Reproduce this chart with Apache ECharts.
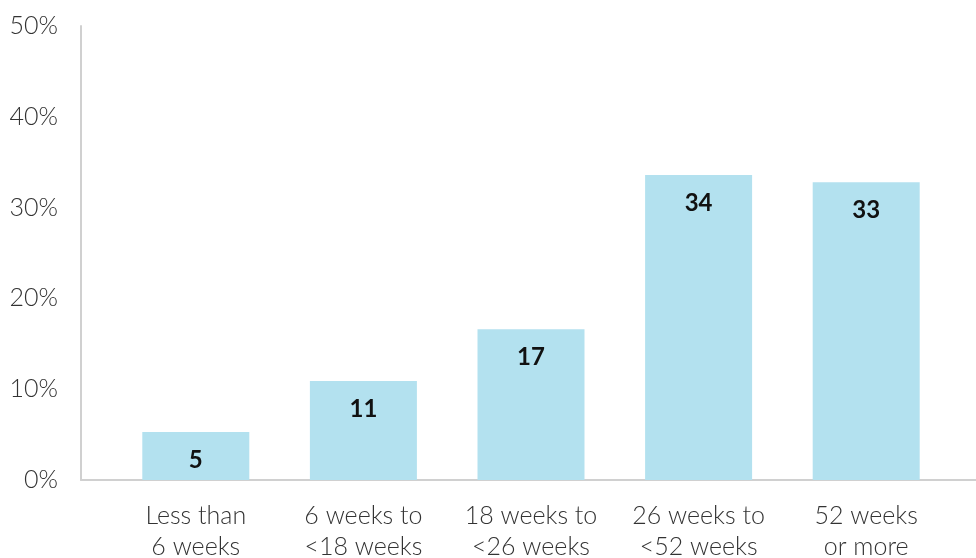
<!DOCTYPE html>
<html><head><meta charset="utf-8">
<script src="https://cdn.jsdelivr.net/npm/echarts@6/dist/echarts.min.js"></script>
<style>html,body{margin:0;padding:0;background:#fff}#c{width:976px;height:558px}</style>
</head><body><div id="c"></div>
<script>
const categories = ['Less than\n6 weeks', '6 weeks to\n<18 weeks', '18 weeks to\n<26 weeks', '26 weeks to\n<52 weeks', '52 weeks\nor more'];
const values = [5.3, 10.9, 16.6, 33.6, 32.8];
const yTicks = [0, 10, 20, 30, 40, 50];

const chart = echarts.init(document.getElementById('c'));
const font = 'Lato';
chart.setOption({
  animation: false,
  grid: [
    {left: 81, right: 0, top: 26, bottom: 78, outerBoundsMode: 'none', containLabel: false},
    {left: 112, right: 26, top: 26, bottom: 78, outerBoundsMode: 'none', containLabel: false}
  ],
  xAxis: [
    {gridIndex: 0, type: 'value', min: 0, max: 1, axisLine: {show: true, lineStyle: {color: '#d0d0d0', width: 2}}, axisTick: {show: false}, axisLabel: {show: false}, splitLine: {show: false}},
    {gridIndex: 1, type: 'category', data: categories, axisLine: {show: false}, axisTick: {show: false},
     axisLabel: {margin: 20, fontFamily: font, fontWeight: 300, fontSize: 25, color: '#333', lineHeight: 31, interval: 0}}
  ],
  yAxis: [
    {gridIndex: 0, type: 'value', min: yTicks[0], max: yTicks[yTicks.length-1], interval: 10,
     axisLine: {show: true, lineStyle: {color: '#d0d0d0', width: 2}}, axisTick: {show: false}, splitLine: {show: false},
     axisLabel: {formatter: v => v + '%', margin: 23, fontFamily: font, fontWeight: 300, fontSize: 25, color: '#333'}},
    {gridIndex: 1, type: 'value', min: 0, max: 50, show: false}
  ],
  series: [{
    type: 'bar', xAxisIndex: 1, yAxisIndex: 1, data: values, barWidth: 107,
    itemStyle: {color: '#b3e1ef'},
    label: {show: true, position: 'insideTop', distance: 16, formatter: p => Math.round(p.value),
      fontFamily: font, fontWeight: 'bold', fontSize: 24, color: '#111'}
  }]
});
</script></body></html>
